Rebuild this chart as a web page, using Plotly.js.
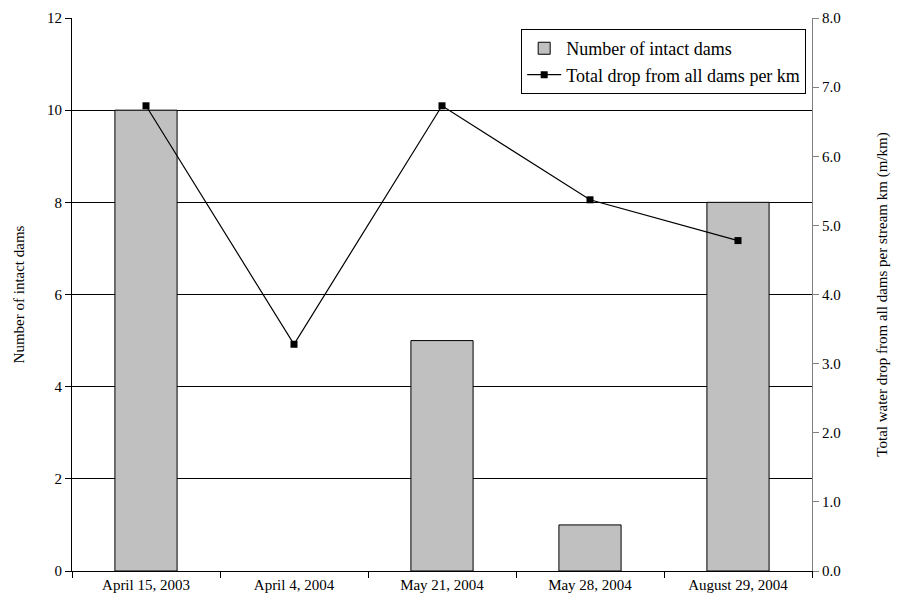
<!DOCTYPE html>
<html>
<head>
<meta charset="utf-8">
<script src="https://cdn.plot.ly/plotly-3.0.1.min.js"></script>
<style>body{margin:0;padding:0;background:#fff}#chart{width:904px;height:609px}</style>
</head>
<body>
<div id="chart"></div>
<script>
var categories = ["April 15, 2003", "April 4, 2004", "May 21, 2004", "May 28, 2004", "August 29, 2004"];
var intactDams = [10, 0, 5, 1, 8];
var dropPerKm = [6.73, 3.28, 6.73, 5.37, 4.78];
var leftTicks = [0, 2, 4, 6, 8, 10, 12];
var rightTicks = [0, 1, 2, 3, 4, 5, 6, 7, 8];

var font = "'Times New Roman', Times, 'Liberation Serif', serif";

var traces = [
  {
    type: "bar",
    name: "Number of intact dams",
    x: categories,
    y: intactDams,
    marker: {color: "#c0c0c0", line: {color: "#000", width: intactDams.map(function(v){return v > 0 ? 1 : 0;})}},
    yaxis: "y"
  },
  {
    type: "scatter",
    mode: "lines+markers",
    name: "Total drop from all dams per km",
    x: categories,
    y: dropPerKm,
    line: {color: "#000", width: 1.2},
    marker: {symbol: "square", size: 7, color: "#000"},
    yaxis: "y2"
  }
];

var layout = {
  width: 904,
  height: 609,
  margin: {l: 72, r: 92, t: 18, b: 38},
  paper_bgcolor: "#fff",
  plot_bgcolor: "#fff",
  font: {family: font, size: 15, color: "#000"},
  showlegend: true,
  bargap: 0.58,
  legend: {
    x: 0.607, y: 0.98, xanchor: "left", yanchor: "top",
    bordercolor: "#000", borderwidth: 1, bgcolor: "#fff",
    font: {family: font, size: 18, color: "#000"},
    itemwidth: 34,
    tracegroupgap: 0
  },
  xaxis: {
    type: "category",
    showline: true, linecolor: "#000", linewidth: 1,
    ticks: "outside", tickson: "boundaries", ticklen: 6, tickcolor: "#000",
    showgrid: false,
    tickfont: {family: font, size: 15, color: "#000"}
  },
  yaxis: {
    range: [0, 12],
    tickvals: leftTicks,
    ticktext: leftTicks.map(String),
    showline: true, linecolor: "#000", linewidth: 1,
    ticks: "outside", ticklen: 6, tickcolor: "#000",
    showgrid: true, gridcolor: "#000", gridwidth: 1,
    zeroline: false,
    tickfont: {family: font, size: 15, color: "#000"},
    title: {text: "Number of intact dams", font: {family: font, size: 15, color: "#000"}, standoff: 18}
  },
  yaxis2: {
    range: [0, 8],
    overlaying: "y",
    side: "right",
    tickvals: rightTicks,
    ticktext: rightTicks.map(function(v){return v.toFixed(1);}),
    showline: true, linecolor: "#808080", linewidth: 1,
    ticks: "outside", ticklen: 6, tickcolor: "#808080",
    showgrid: false, zeroline: false,
    tickfont: {family: font, size: 15, color: "#000"},
    title: {text: "Total water drop from all dams per stream km (m/km)", font: {family: font, size: 15, color: "#000"}, standoff: 36}
  }
};

Plotly.newPlot("chart", traces, layout, {displayModeBar: false, staticPlot: true});
</script>
</body>
</html>
